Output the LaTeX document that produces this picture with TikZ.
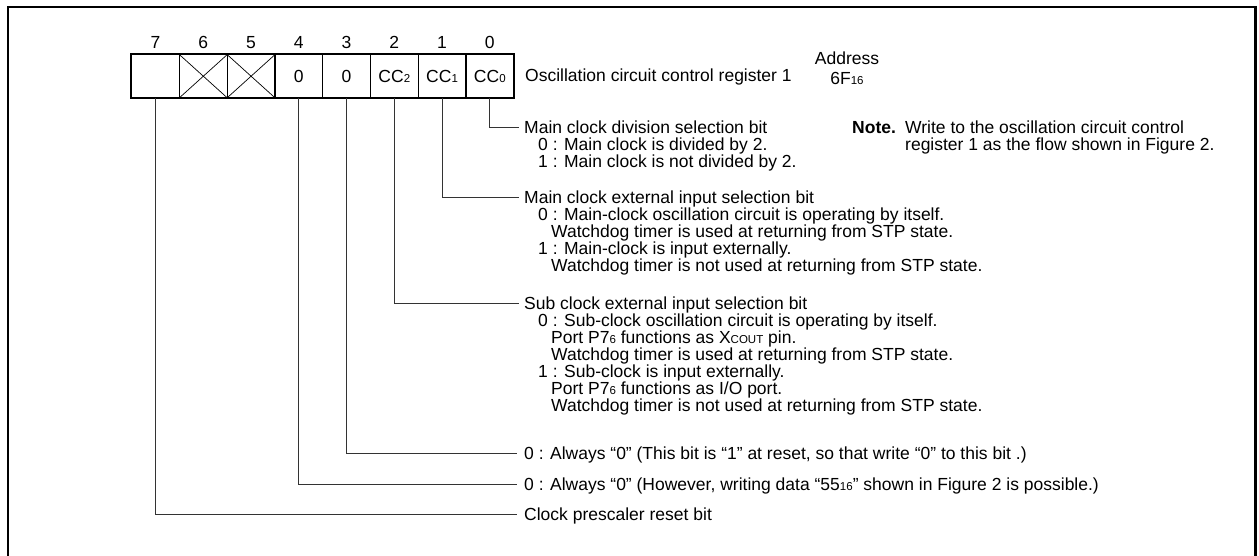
\documentclass[tikz,border=0pt]{standalone}
\usepackage{fontspec}
\setmainfont{Liberation Sans}
\usetikzlibrary{calc}
\newcommand\smd[1]{{\fontsize{11.5}{12}\selectfont #1}}
\begin{document}
\begin{tikzpicture}[x=1pt,y=-1pt,
  txt/.style={anchor=base west, inner sep=0pt, font=\fontsize{17.5}{17}\selectfont},
  num/.style={anchor=base, inner sep=0pt, font=\fontsize{17.5}{17}\selectfont},
  cell/.style={draw, line width=1.4pt, minimum width=47.75pt, minimum height=43pt, inner sep=0pt, anchor=north west, font=\fontsize{17.5}{17}\selectfont},
  lead/.style={draw=black!80, line width=0.9pt},
  frame/.style={draw, line width=2.7pt},
  xline/.style={draw, line width=0.7pt}
]
\useasboundingbox (0,0) rectangle (1259,555);
\draw[frame] (8,562) -- (8,7) -- (1255.5,7) -- (1255.5,562);

% register cells
\node[cell] (c7) at (131,54) {};
\node[cell] (c6) at (178.75,54) {};
\node[cell] (c5) at (226.5,54) {};
\node[cell] (c4) at (274.25,54) {0};
\node[cell] (c3) at (322,54) {0};
\node[cell] (c2) at (369.75,54) {CC\smd{2}};
\node[cell] (c1) at (417.5,54) {CC\smd{1}};
\node[cell] (c0) at (465.25,54) {CC\smd{0}};
\draw[line width=2pt] (c7.north west) rectangle (c0.south east);
\draw[xline] (c6.north west) -- (c6.south east) (c6.south west) -- (c6.north east);
\draw[xline] (c5.north west) -- (c5.south east) (c5.south west) -- (c5.north east);

% bit numbers
\foreach \i in {0,...,7} {
  \node[num] (b\i) at ($(c\i.north)+(0,-5.5)$) {\i};
}

\node[txt] (reg) at (525,81) {Oscillation circuit control register 1};
\node[num] (addr) at (847,64) {Address};
\node[num] (addrv) at (847,84) {6F\smd{16}};

\node[txt] (note) at (852,133) {\textbf{Note.}};
\node[txt] (note1) at (905,133) {Write to the oscillation circuit control};
\node[txt] (note2) at (905,150) {register 1 as the flow shown in Figure 2.};

% section 1 (bit 0)
\node[txt] (s0t) at (524,133) {Main clock division selection bit};
\node[txt] (s0a) at (538,150) {0 : Main clock is divided by 2.};
\node[txt] (s0b) at (538,167) {1 : Main clock is not divided by 2.};

% section 2 (bit 1)
\node[txt] (s1t) at (524,203) {Main clock external input selection bit};
\node[txt] (s1a) at (538,220) {0 : Main-clock oscillation circuit is operating by itself.};
\node[txt] (s1b) at (551,237) {Watchdog timer is used at returning from STP state.};
\node[txt] (s1c) at (538,254) {1 : Main-clock is input externally.};
\node[txt] (s1d) at (551,271) {Watchdog timer is not used at returning from STP state.};

% section 3 (bit 2)
\node[txt] (s2t) at (524,309) {Sub clock external input selection bit};
\node[txt] (s2a) at (538,326) {0 : Sub-clock oscillation circuit is operating by itself.};
\node[txt] (s2b) at (551,343) {Port P7\smd{6} functions as X\smd{COUT} pin.};
\node[txt] (s2c) at (551,360) {Watchdog timer is used at returning from STP state.};
\node[txt] (s2d) at (538,377) {1 : Sub-clock is input externally.};
\node[txt] (s2e) at (551,394) {Port P7\smd{6} functions as I/O port.};
\node[txt] (s2f) at (551,411) {Watchdog timer is not used at returning from STP state.};

\node[txt] (s3t) at (524,459) {0 : Always ``0'' (This bit is ``1'' at reset, so that write ``0'' to this bit .)};
\node[txt] (s4t) at (524,490) {0 : Always ``0'' (However, writing data ``55\smd{16}'' shown in Figure 2 is possible.)};
\node[txt] (s7t) at (524,520) {Clock prescaler reset bit};

% leaders
\draw[lead] (c0.south) |- ($(s0t.base west)+(-5,-6)$);
\draw[lead] (c1.south) |- ($(s1t.base west)+(-5,-6)$);
\draw[lead] (c2.south) |- ($(s2t.base west)+(-5,-6)$);
\draw[lead] (c3.south) |- ($(s3t.base west)+(-7,-6)$);
\draw[lead] (c4.south) |- ($(s4t.base west)+(-7,-6)$);
\draw[lead] (c7.south) |- ($(s7t.base west)+(-7,-6)$);
\end{tikzpicture}
\end{document}
